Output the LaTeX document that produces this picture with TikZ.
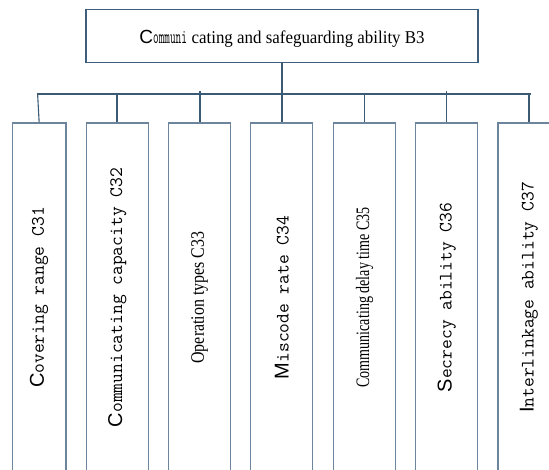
\documentclass[tikz,border=0pt]{standalone}
\usepackage{fontspec}
\setmainfont{Liberation Serif}
\newfontfamily\capsansfont{Liberation Sans}
\newcommand\leadcap[1]{{\capsansfont\fontsize{20}{20}\selectfont #1}}
\newcommand\titlecap[1]{{\capsansfont\fontsize{19}{19}\selectfont #1}}
\definecolor{linkc}{HTML}{3B5A74}
\definecolor{boxc}{HTML}{6C849C}
\definecolor{topc}{HTML}{3E5E7C}
\begin{document}
\begin{tikzpicture}[x=1pt,y=1pt,
  conn/.style={draw=linkc, line width=2.2pt},
  thinconn/.style={draw=linkc, line width=1.1pt},
  topbox/.style={draw=topc, line width=1.1pt, minimum width=392pt, minimum height=53pt,
    inner sep=0pt, text height=18pt, text depth=2pt, font=\fontsize{18}{18}\selectfont},
  leaf/.style={draw=boxc, line width=1.2pt, rotate=90, minimum width=349pt,
    minimum height=62pt, inner sep=0pt, font=\fontsize{19}{19}\ttfamily},
  serifleaf/.style={leaf, font=\fontsize{19}{19}\rmfamily}
]
\useasboundingbox (0,0) rectangle (549,-470);
\clip (0,0) rectangle (549,-470);

% top node
\node[topbox] (b3) at (282,-36)
  {\titlecap{C}\scalebox{0.55}[1]{\fontsize{20}{20}\ttfamily ommuni} \scalebox{0.94}[1]{cating and safeguarding ability B3}};

% leaf nodes
\node[leaf, minimum height=53.7pt] (c31) at (39.15,-297.5) {\leadcap{C}overing range C31};
\node[leaf] (c32) at (117.3,-297.5) {\leadcap{C}ommunicating capacity C32};
\node[serifleaf] (c33) at (199.7,-297.5) {\scalebox{0.84}[1]{Operation types C33}};
\node[leaf] (c34) at (281.85,-297.5) {\leadcap{M}iscode rate C34};
\node[serifleaf] (c35) at (364.5,-297.5) {\scalebox{0.74}[1]{Communicating delay time C35}};
\node[leaf] (c36) at (446.7,-297.5) {\leadcap{S}ecrecy ability C36};
\node[leaf] (c37) at (529,-297.5) {\leadcap{I}nterlinkage ability C37};

% connector bar
\coordinate (jL) at (37,-93.7);
\coordinate (jR) at (531.4,-93.7);
\coordinate (j1) at (37.6,-93.7);
\coordinate (s3) at (199.7,-90.8);
\coordinate (s6) at (446.7,-90.8);

\draw[conn] (b3.south) -- (b3.south |- jL);
\draw[conn] (jL) -- (jR);
\draw[thinconn] (j1) -- (c31.east);
\draw[conn] (c32.east |- jL) -- (c32.east);
\draw[conn] (s3) -- (c33.east);
\draw[conn] (c34.east |- jL) -- (c34.east);
\draw[thinconn] (c35.east |- jL) -- (c35.east);
\draw[thinconn] (s6) -- (c36.east);
\draw[conn] (c37.east |- jL) -- (c37.east);
\end{tikzpicture}
\end{document}
